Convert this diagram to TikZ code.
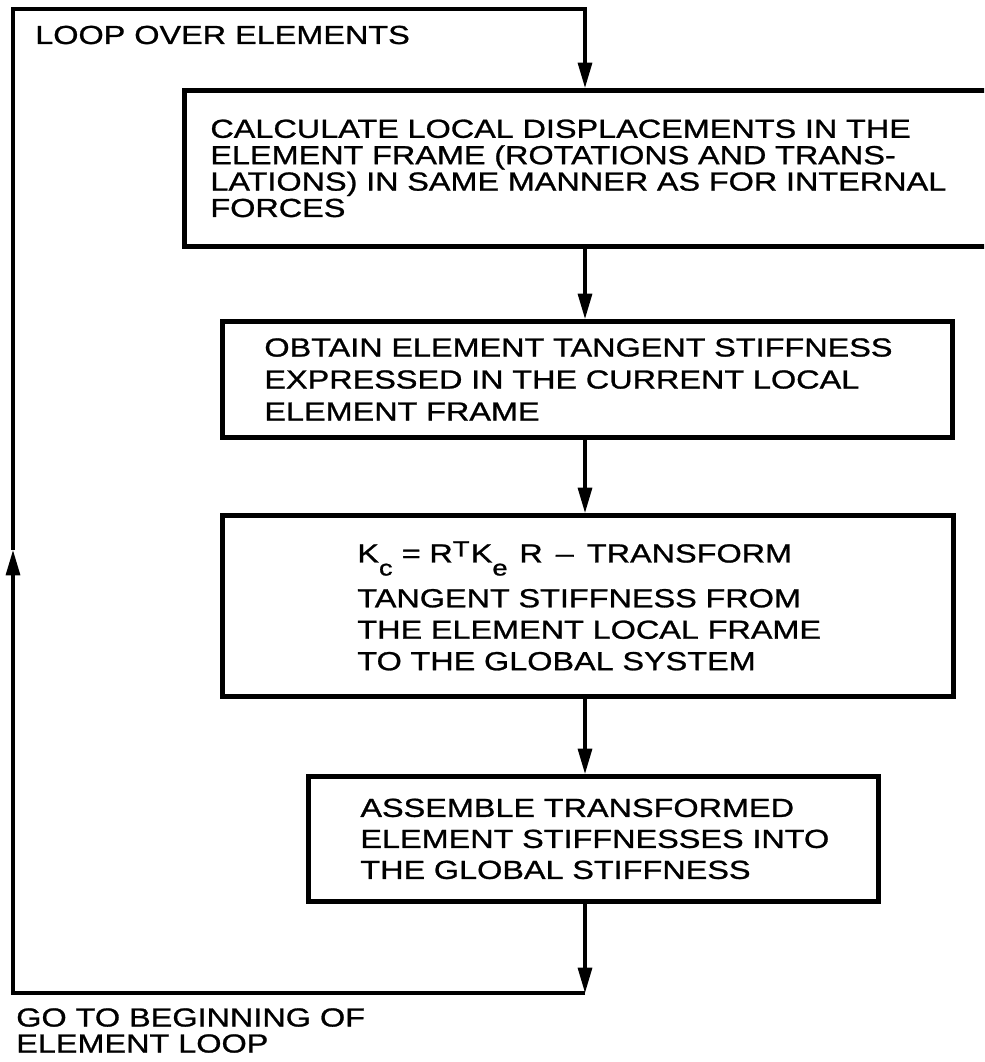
\documentclass[tikz,border=0pt]{standalone}
\usepackage{fontspec}
\setmainfont{Liberation Sans}[FakeStretch=1.24,FakeBold=1]
\usetikzlibrary{arrows.meta}
\newcommand\lineof[1]{\mbox{#1}}
\newcommand\lowsub[1]{\raisebox{-9.75pt}{\fontsize{16.5pt}{16.5pt}\selectfont #1}}
\newcommand\highsup[1]{\raisebox{4.5pt}{\fontsize{16.5pt}{16.5pt}\selectfont #1}}
\begin{document}
\begin{tikzpicture}[x=0.75pt,y=-0.75pt,
  txt/.style={font=\fontsize{19.6pt}{19.5pt}\selectfont, inner sep=0pt},
  box/.style={draw, line width=3.6pt, inner ysep=0pt, align=left, anchor=north west},
  conn/.style={line width=2.4pt},
  arr/.style={conn, -{Triangle[length=19pt,width=10.5pt]}}]
\useasboundingbox (0,0) rectangle (984,1062);
\clip (0,0) rectangle (984,1062);

% boxes
\node[box, inner xsep=19.5pt, text width=600pt, minimum height=117pt,
      font=\fontsize{19.6pt}{19.8pt}\selectfont] (b1) at (182,88)
  {\lineof{CALCULATE LOCAL DISPLACEMENTS IN THE}\\
   \lineof{ELEMENT FRAME (ROTATIONS AND TRANS-}\\
   \lineof{LATIONS) IN SAME MANNER AS FOR INTERNAL}\\
   \lineof{FORCES}};
\node[box, inner xsep=31.5pt, text width=484.5pt, minimum height=87pt,
      font=\fontsize{19.6pt}{24pt}\selectfont] (b2) at (220,319)
  {\lineof{OBTAIN ELEMENT TANGENT STIFFNESS}\\
   \lineof{EXPRESSED IN THE CURRENT LOCAL}\\
   \lineof{ELEMENT FRAME}};
\node[box, inner xsep=101.25pt, text width=345.75pt, minimum height=135.75pt,
      font=\fontsize{19.6pt}{23.6pt}\selectfont] (b3) at (220,513)
  {\lineof{K\lowsub{c}\hspace{0.35em}= R\highsup{T}\hspace{0.05em}K\lowsub{e}\hspace{0.45em}R \,–\, TRANSFORM}\\[10pt]
   \lineof{TANGENT STIFFNESS FROM}\\
   \lineof{THE ELEMENT LOCAL FRAME}\\
   \lineof{TO THE GLOBAL SYSTEM}};
\node[box, inner xsep=39pt, text width=349.5pt, minimum height=93.75pt,
      font=\fontsize{19.6pt}{23.25pt}\selectfont] (b4) at (306,774)
  {\lineof{ASSEMBLE TRANSFORMED}\\
   \lineof{ELEMENT STIFFNESSES INTO}\\
   \lineof{THE GLOBAL STIFFNESS}};

% labels
\node[txt, anchor=west] (lbl1) at (35,35) {LOOP OVER ELEMENTS};
\node[txt, anchor=north west, align=left] (lbl2) at (16,1008)
  {GO TO BEGINNING OF\\ELEMENT LOOP};

% loop coordinates
\coordinate (ax) at (585,0);
\coordinate (tl) at (13,9);
\coordinate (tr) at (585,9);
\coordinate (bl) at (13,993);
\coordinate (br) at (585,993);
\coordinate (mid) at (13,550);

% connectors
\draw[arr] (mid) -- (tl) -- (tr) -- (b1.north -| tr);
\draw[arr] (b1.south -| ax) -- (b2.north -| ax);
\draw[arr] (b2.south -| ax) -- (b3.north -| ax);
\draw[arr] (b3.south -| ax) -- (b4.north -| ax);
\draw[arr] (b4.south -| ax) -- (br);
\draw[arr] (br) -- (bl) -- (mid);
\end{tikzpicture}
\end{document}
